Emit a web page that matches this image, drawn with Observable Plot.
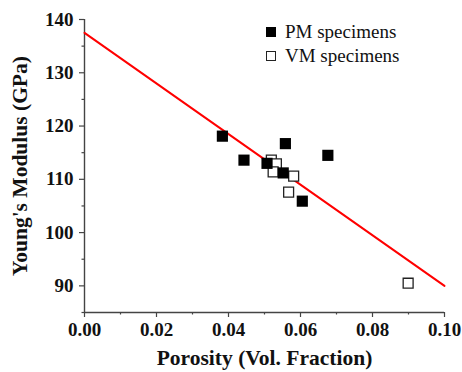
<!DOCTYPE html>
<html><head><meta charset="utf-8">
<script src="https://cdn.jsdelivr.net/npm/d3@7"></script>
<script src="https://cdn.jsdelivr.net/npm/@observablehq/plot@0.6"></script>
<style>
body{margin:0;background:#fff;}
#wrap{position:relative;width:462px;height:372px;font-family:"Liberation Serif","Times New Roman",serif;}
#wrap svg, #wrap svg text{font-family:"Liberation Serif","Times New Roman",serif !important;}
.leg{position:absolute;left:266px;font-size:19px;color:#111;display:flex;align-items:center;}
.sw{width:10px;height:10px;box-sizing:border-box;margin-right:9px;}
</style>
</head><body>
<div id="wrap"></div>
<script>
const pmX = [0.0383, 0.0443, 0.0507, 0.0552, 0.0558, 0.0605, 0.0676];
const pmY = [118.1, 113.6, 113.0, 111.2, 116.7, 105.9, 114.5];
const vmX = [0.0519, 0.0533, 0.0524, 0.0581, 0.0567, 0.0899];
const vmY = [113.6, 112.9, 111.4, 110.6, 107.6, 90.5];
const fitX = [0, 0.1];
const fitY = [137.5, 90];
const xTicks = [0, 0.02, 0.04, 0.06, 0.08, 0.10];
const xTickLabels = ["0.00", "0.02", "0.04", "0.06", "0.08", "0.10"];
const xMinor = [0.01, 0.03, 0.05, 0.07, 0.09];
const yTicks = [90, 100, 110, 120, 130, 140];
const yMinor = [85, 95, 105, 115, 125, 135];
const legendLabels = ["PM specimens", "VM specimens"];
const xLabel = "Porosity (Vol. Fraction)";
const yLabel = "Young's Modulus (GPa)";

const pm = pmX.map((x, i) => ({x, y: pmY[i]}));
const vm = vmX.map((x, i) => ({x, y: vmY[i]}));
const fit = fitX.map((x, i) => ({x, y: fitY[i]}));
const axisColor = "#444";

const chart = Plot.plot({
  width: 462, height: 372,
  marginLeft: 84, marginRight: 18, marginTop: 19, marginBottom: 60,
  x: {domain: [0, 0.1]},
  y: {domain: [85, 140]},
  style: {fontFamily: "'Liberation Serif', 'Times New Roman', serif", background: "#fff", color: "#111"},
  marks: [
    Plot.axisY({ticks: yMinor, tickSize: 2.5, tickFormat: () => "", label: null, stroke: axisColor, strokeWidth: 1.2}),
    Plot.axisX({ticks: xMinor, tickSize: 2.5, tickFormat: () => "", label: null, stroke: axisColor, strokeWidth: 1.2}),
    Plot.axisY({ticks: yTicks, tickSize: 5, tickPadding: 6, fontSize: 19, fontWeight: "bold", fill: "#111", stroke: axisColor, strokeWidth: 1.2,
      label: yLabel, labelAnchor: "center", labelArrow: "none", labelOffset: 73}),
    Plot.axisX({ticks: xTicks, tickSize: 5, tickPadding: 5, fontSize: 19, fontWeight: "bold", fill: "#111", stroke: axisColor, strokeWidth: 1.2,
      tickFormat: (d) => xTickLabels[xTicks.indexOf(d)],
      label: xLabel, labelAnchor: "center", labelArrow: "none", labelOffset: 52}),
    Plot.ruleX([0], {stroke: axisColor, strokeWidth: 1.4}),
    Plot.ruleY([85], {stroke: axisColor, strokeWidth: 1.4}),
    Plot.line(fit, {x: "x", y: "y", stroke: "#f00", strokeWidth: 2}),
    Plot.dot(vm, {x: "x", y: "y", symbol: "square", r: 5.6, fill: "#fff", stroke: "#222", strokeWidth: 1.3}),
    Plot.dot(pm, {x: "x", y: "y", symbol: "square", r: 6.3, fill: "#000"})
  ]
});
chart.querySelectorAll("text").forEach(t => {
  if (t.textContent === xLabel || t.textContent === yLabel) {
    t.style.fontSize = "21.5px";
    t.style.fontWeight = "bold";
    t.style.fill = "#111";
  }
});
const wrap = document.getElementById("wrap");
wrap.appendChild(chart);
const legTops = [21, 45];
legendLabels.forEach((lab, i) => {
  const d = document.createElement("div");
  d.className = "leg";
  d.style.top = legTops[i] + "px";
  const s = document.createElement("span");
  s.className = "sw";
  s.style.background = i === 0 ? "#000" : "#fff";
  s.style.border = i === 0 ? "none" : "1.3px solid #222";
  d.appendChild(s);
  const t = document.createElement("span");
  t.textContent = lab;
  d.appendChild(t);
  wrap.appendChild(d);
});
</script>
</body></html>
